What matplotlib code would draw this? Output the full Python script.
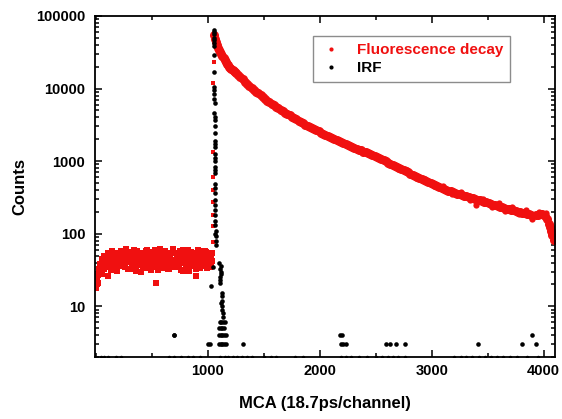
import numpy as np
import matplotlib
matplotlib.use("Agg")
import matplotlib.pyplot as plt
from matplotlib.ticker import FixedLocator, LogLocator, NullFormatter, FuncFormatter

plt.rcParams['font.family'] = ['Liberation Sans', 'DejaVu Sans']

# Fluorescence decay: flat background before the pulse (channels 0..1040 step 10)
bg_channels = list(range(0, 1050, 10))
bg_counts = [18, 24, 21, 30, 35, 28, 40, 33, 44, 38,
             47, 26, 52, 41, 34, 49, 55, 39, 45, 31,
             50, 43, 58, 37, 46, 53, 35, 48, 42, 56,
             33, 47, 51, 39, 60, 44, 36, 52, 41, 49,
             30, 55, 45, 38, 50, 57, 34, 46, 40, 53,
             44, 48, 37, 59, 21, 32, 51, 45, 39, 54,
             47, 36, 58, 42, 50, 33, 46, 55, 40, 62,
             44, 37, 52, 48, 35, 57, 41, 49, 31, 54,
             46, 38, 60, 43, 51, 36, 47, 55, 39, 26,
             50, 42, 58, 34, 48, 53, 40, 45, 56, 37,
             44, 51, 35, 49, 42]
# same background, odd channels in between (5, 15, ... 1035)
bg_channels2 = list(range(5, 1040, 10))
bg_counts2 = [20, 27, 33, 38, 31, 45, 36, 50, 42, 35,
              54, 39, 46, 32, 57, 43, 37, 51, 34, 48,
              40, 55, 36, 45, 52, 38, 61, 44, 33, 49,
              56, 41, 35, 53, 46, 31, 58, 42, 50, 37,
              47, 34, 54, 44, 39, 60, 36, 49, 43, 32,
              56, 40, 46, 35, 52, 45, 38, 61, 42, 34,
              50, 57, 37, 44, 33, 53, 47, 39, 58, 41,
              35, 55, 45, 38, 50, 32, 48, 59, 40, 44,
              36, 52, 47, 31, 56, 42, 38, 54, 45, 33,
              49, 60, 41, 36, 52, 44, 39, 57, 47, 34,
              51, 43, 38, 55]

# rising edge of the decay
rise_channels = [1040, 1042, 1044, 1045, 1046, 1046, 1047, 1048, 1049, 1050]
rise_counts = [55, 76, 128, 180, 275, 400, 600, 1330, 12000, 23000]

# decay after the peak
decay_channels = (list(range(1050, 1250, 10)) + list(range(1250, 3910, 20))
                  + [3930, 3950, 3970, 3990, 4010, 4030, 4050, 4060, 4070, 4080, 4090])
decay_counts = [
    55000, 48500, 44000, 40000, 36500, 33500, 31500, 29500, 27700, 26000,
    24500, 23200, 22000, 21000, 20000, 19300, 18700, 18100, 17600, 17000,
    # 1250 .. step 20
    16500, 15400, 14300, 13400, 12400, 11600, 10800, 10150, 9600, 9060,
    8560, 8080, 7620, 7200, 6800, 6500, 6200, 5910, 5640, 5380,
    5130, 4900, 4670, 4460, 4270, 4100, 3940, 3780, 3620, 3470,
    3330, 3190, 3060, 2960, 2850, 2750, 2660, 2560, 2470, 2390,
    2300, 2220, 2150, 2080, 2010, 1950, 1890, 1840, 1780, 1730,
    1680, 1630, 1580, 1530, 1480, 1440, 1400, 1355, 1318, 1280,
    1240, 1205, 1170, 1135, 1096, 1060, 1023, 988, 955, 920,
    889, 859, 830, 802, 774, 747, 721, 697, 673, 649,
    628, 608, 589, 570, 552, 535, 518, 501, 485, 470,
    455, 441, 427, 413, 398, 390, 382, 373, 366, 357,
    350, 343, 335, 328, 321, 314, 307, 301, 294, 288,
    282, 276, 270, 264, 258, 252, 247, 241, 236, 231,
    226, 221, 217, 213, 209, 205, 202, 198, 195, 191,
    188, 184, 181,
    # tail
    178, 182, 186, 185, 175, 160, 135, 122, 108, 95, 82]

# noisy spread of the tail (extra points)
tail_channels = [2620, 2700, 2780, 2860, 2940, 3020, 3100, 3180, 3260, 3340,
                 3400, 3460, 3540, 3600, 3660, 3720, 3780, 3840, 3900, 3960, 4020]
tail_counts = [980, 790, 760, 590, 570, 455, 450, 350, 375, 290,
               250, 300, 235, 265, 205, 235, 185, 215, 160, 200, 190]

# IRF
irf_channels = [1052, 1053, 1054, 1055, 1054, 1056, 1055, 1057, 1056, 1057,
                1058, 1057, 1058, 1059, 1058, 1059, 1060, 1059, 1060, 1061,
                1060, 1062, 1061, 1062, 1063, 1062, 1063, 1064, 1063, 1064,
                1065, 1064, 1066, 1065, 1066, 1067, 1066, 1068, 1067, 1070,
                1072, 1075, 1030, 1045, 1100, 1105, 1110, 1108, 1115, 1120,
                1112, 1118, 1125, 1122, 1130, 1128, 1135, 1132, 1115, 1125,
                1105, 1120, 1135, 1150, 1100, 1115, 1130, 1145, 1100, 1115,
                1130, 1145, 1160, 700, 1000, 1020, 1100, 1115, 1130, 1145,
                1160, 1310, 2190, 2210, 2230, 2590, 2625, 2685, 2760, 3410,
                3810, 3935, 700, 2180, 2200, 3895]
irf_counts = [65000, 60000, 56000, 50000, 46000, 42000, 38000, 29000, 17000, 10500,
              9500, 8300, 7200, 6300, 4600, 4100, 3700, 3000, 2400, 1900,
              1700, 1550, 1250, 1100, 1000, 820, 750, 680, 490, 420,
              360, 290, 250, 210, 180, 150, 130, 110, 100, 92,
              69, 80, 19, 35, 39, 33, 25, 21, 36, 30,
              23, 28, 15, 12, 10, 9, 8, 7, 11, 14,
              6, 6, 6, 6, 5, 5, 5, 5, 4, 4,
              4, 4, 4, 4, 3, 3, 3, 3, 3, 3,
              3, 3, 3, 3, 3, 3, 3, 3, 3, 3,
              3, 3, 4, 4, 4, 4]

# IRF points sitting on the bottom axis (count 2)
irf_floor_channels = [40, 70, 110, 180, 220, 650, 700, 760, 820, 870, 930,
                      1110, 1150, 1180, 1220, 1260, 1300, 1350, 1390, 1500, 1560,
                      1610, 1780, 1850, 2190, 2230, 2280, 2350, 2420, 2500, 2560,
                      2610, 2650, 2700, 2760, 3200, 3260, 3310, 3360, 3420, 3480,
                      3530, 3580, 3640, 3700, 3760, 3850, 3950]
irf_floor_counts = [2] * len(irf_floor_channels)

red = '#f01010'

fig = plt.figure(figsize=(5.62, 4.19), dpi=100)
ax = fig.add_axes([0.169, 0.148, 0.819, 0.814])

ax.plot(bg_channels, bg_counts, 's', color=red, ms=4.5, mew=0)
ax.plot(bg_channels2, bg_counts2, 's', color=red, ms=4.5, mew=0)
ax.plot(rise_channels, rise_counts, 's', color=red, ms=3, mew=0)
ax.plot(decay_channels, decay_counts, 'o', color=red, ms=6.5, mew=0)
ax.plot(tail_channels, tail_counts, 'o', color=red, ms=4.5, mew=0)
ax.plot(irf_channels, irf_counts, 'o', color='black', ms=3.3, mew=0)
ax.plot(irf_floor_channels, irf_floor_counts, 'o', color='black', ms=2.5, mew=0)

# legend handles
ax.plot([], [], 'o', color=red, ms=3, mew=0, label='Fluorescence decay')
ax.plot([], [], 'o', color='black', ms=3, mew=0, label='IRF')

ax.set_yscale('log')
ax.set_xlim(-10, 4105)
ax.set_ylim(2, 100000)

ax.xaxis.set_major_locator(FixedLocator([1000, 2000, 3000, 4000]))
ax.xaxis.set_minor_locator(FixedLocator([0, 500, 1500, 2500, 3500]))
ax.yaxis.set_major_locator(LogLocator(base=10, numticks=10))
ax.yaxis.set_minor_locator(LogLocator(base=10, subs=np.arange(2, 10), numticks=20))
ax.yaxis.set_minor_formatter(NullFormatter())
ax.yaxis.set_major_formatter(FuncFormatter(lambda v, p: '%d' % v if v >= 10 else ''))

ax.tick_params(which='both', direction='in', top=True, right=True, width=1.1)
ax.tick_params(which='major', length=5, labelsize=10.5)
ax.tick_params(axis='y', which='major', pad=7)
ax.tick_params(axis='x', which='major', pad=5)
ax.tick_params(which='minor', length=3)
for lab in ax.get_xticklabels() + ax.get_yticklabels():
    lab.set_fontweight('bold')
for sp in ax.spines.values():
    sp.set_linewidth(1.3)

ax.set_xlabel('MCA (18.7ps/channel)', fontsize=12, fontweight='bold', labelpad=13)
ax.set_ylabel('Counts', fontsize=12, fontweight='bold', labelpad=6)

leg = ax.legend(loc='upper left', bbox_to_anchor=(0.474, 0.94), fancybox=False,
                borderaxespad=0, prop={'weight': 'bold', 'size': 11},
                handletextpad=1.0, borderpad=0.45, labelspacing=0.25, handlelength=1.4)
leg.get_frame().set_edgecolor('#707070')
leg.get_frame().set_linewidth(1.0)
for txt, c in zip(leg.get_texts(), [red, 'black']):
    txt.set_color(c)

plt.savefig('out.png', dpi=100)
